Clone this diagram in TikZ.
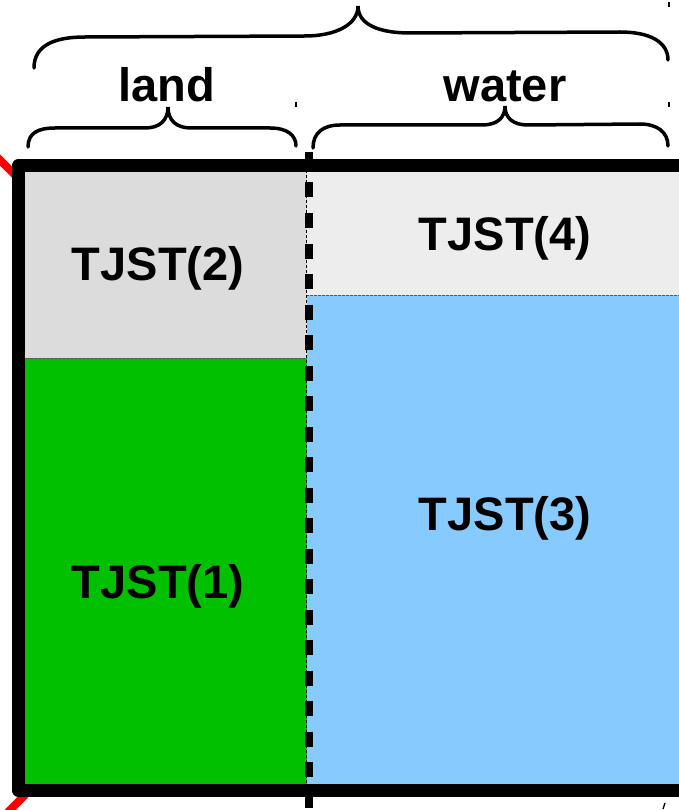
\documentclass[tikz,border=0pt]{standalone}
\usepackage{fontspec}
\setmainfont{Liberation Sans}
\definecolor{landgray}{HTML}{DCDCDC}
\definecolor{watergray}{HTML}{EDEDED}
\definecolor{landgreen}{HTML}{00C000}
\definecolor{waterblue}{HTML}{87CBFE}
\definecolor{linered}{HTML}{FF0000}
\begin{document}
\begin{tikzpicture}[x=1pt,y=-1pt,
  lbl/.style={font=\fontsize{47}{56}\selectfont\bfseries, anchor=base, inner sep=0pt},
  bracepath/.style={line width=3.5pt, line cap=round},
  divider/.style={line width=0.7pt, dash pattern=on 2.5pt off 1.5pt, draw=black!65},
  tickmark/.style={line width=1.3pt},
  redline/.style={draw=linered, line width=8pt}]
\useasboundingbox (0,0) rectangle (679,810);
\clip (0,0) rectangle (679,810);
% red lines behind the frame
\draw[redline] (-10,150) -- (22,182);
\draw[redline] (3,817) -- (30,790);
% regions
\fill[landgray] (18,166) rectangle (307,358);
\fill[landgreen] (18,358) rectangle (307,790);
\fill[watergray] (307,166) rectangle (700,295);
\fill[waterblue] (307,295) rectangle (700,790);
\draw[divider] (18,358) -- (306,358);
\draw[divider] (306,295) -- (700,295);
\draw[line width=0.8pt, dash pattern=on 3pt off 2pt] (306,170) -- (306,786);
% frame
\draw[line width=13pt, line join=round] (18,166) rectangle (692,790);
% thick dashed boundary
\draw[line width=7.5pt, dash pattern=on 15pt off 15.5pt] (309,152) -- (309,808);
% braces
\draw[bracepath] (34,68) .. controls (34,45) and (55,37) .. (85,37) -- (305,36)
  .. controls (335,36) and (358,25) .. (358,6)
  .. controls (358,25) and (380,33) .. (410,33) -- (620,32)
  .. controls (650,32) and (668,42) .. (668,60);
\draw[bracepath] (28,147) .. controls (28,133) and (38,128) .. (55,128) -- (145,128)
  .. controls (160,128) and (168,120) .. (168,107)
  .. controls (168,120) and (176,128) .. (191,128) -- (270,128)
  .. controls (287,128) and (296,135) .. (296,146);
\draw[bracepath] (313,148) .. controls (313,133) and (323,125) .. (340,125) -- (482,125)
  .. controls (497,125) and (505,118) .. (505,106)
  .. controls (505,118) and (513,125) .. (528,125) -- (640,124)
  .. controls (657,124) and (668,132) .. (668,146);
% small marks
\draw[tickmark] (669,2) -- (669,7);
\draw[tickmark] (669,102) -- (669,107);
\draw[tickmark] (296,102) -- (296,107);
\draw[tickmark] (663,809) -- (665,803);
% labels
\node[lbl] (land) at (167,102) {land};
\node[lbl] (water) at (505,102) {water};
\node[lbl] (t2) at (158,280) {TJST(2)};
\node[lbl] (t1) at (158,598) {TJST(1)};
\node[lbl] (t4) at (505,250) {TJST(4)};
\node[lbl] (t3) at (505,530) {TJST(3)};
\end{tikzpicture}
\end{document}
